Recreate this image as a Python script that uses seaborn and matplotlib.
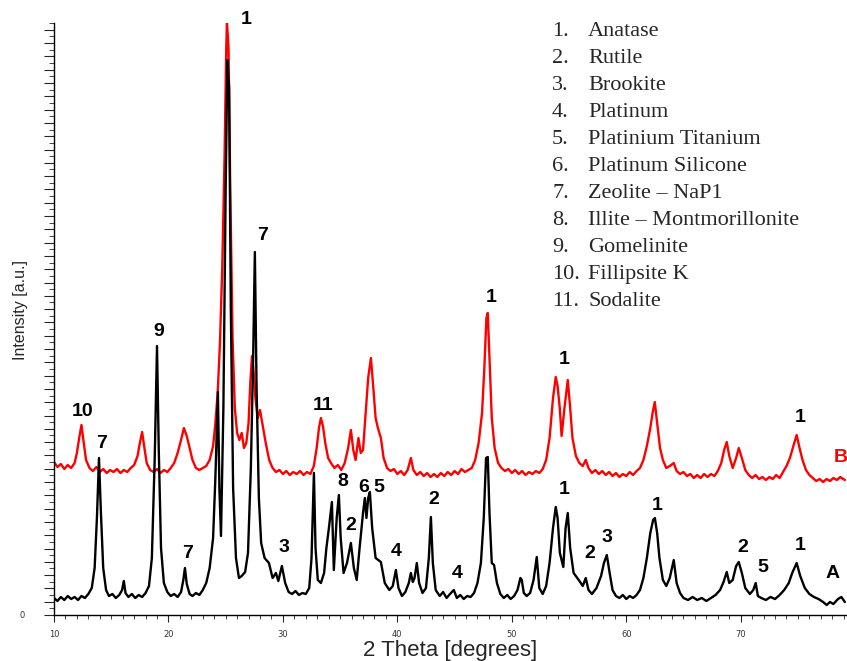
import numpy as np
import pandas as pd
import matplotlib
matplotlib.use("Agg")
import matplotlib.pyplot as plt
from matplotlib.ticker import MultipleLocator, FuncFormatter
import seaborn as sns

# XRD pattern A (black)
theta_a = [10.0, 10.3, 10.6, 10.9, 11.2, 11.5, 11.8, 12.1, 12.4, 12.7, 13.0, 13.3, 13.55, 13.75, 13.93, 14.1,
           14.3, 14.55, 14.8, 15.1, 15.4, 15.7, 15.95, 16.1, 16.25, 16.5, 16.8, 17.1, 17.4, 17.7, 18.0, 18.3,
           18.55, 18.8, 19.0, 19.15, 19.35, 19.6, 19.9, 20.2, 20.5, 20.8, 21.1, 21.3, 21.44, 21.6, 21.85, 22.1,
           22.4, 22.7, 23.0, 23.3, 23.6, 23.9, 24.1, 24.32, 24.45, 24.59, 24.8, 25.0, 25.15, 25.3, 25.45, 25.65,
           25.9, 26.16, 26.4, 26.7, 26.95, 27.2, 27.4, 27.55, 27.7, 27.9, 28.1, 28.4, 28.78, 29.1, 29.39, 29.6,
           29.91, 30.2, 30.5, 30.8, 31.1, 31.4, 31.7, 32.0, 32.3, 32.5, 32.71, 32.85, 33.05, 33.32, 33.6, 33.8,
           34.02, 34.28, 34.45, 34.7, 34.89, 35.05, 35.3, 35.6, 35.94, 36.2, 36.45, 36.7, 37.0, 37.16, 37.3, 37.45,
           37.6, 37.8, 38.1, 38.56, 38.9, 39.3, 39.6, 39.87, 40.1, 40.4, 40.7, 41.0, 41.18, 41.35, 41.5, 41.7,
           41.9, 42.2, 42.5, 42.75, 42.93, 43.1, 43.35, 43.7, 44.0, 44.3, 44.6, 44.93, 45.2, 45.5, 45.8, 46.1,
           46.4, 46.7, 47.0, 47.3, 47.55, 47.75, 47.9, 48.05, 48.25, 48.45, 48.7, 49.0, 49.3, 49.6, 49.9, 50.2,
           50.5, 50.75, 50.87, 51.05, 51.3, 51.6, 51.9, 52.18, 52.4, 52.7, 53.0, 53.3, 53.6, 53.84, 54.0, 54.2,
           54.5, 54.7, 54.89, 55.1, 55.4, 55.85, 56.2, 56.46, 56.7, 57.0, 57.4, 57.8, 58.05, 58.3, 58.55, 58.8,
           59.1, 59.4, 59.7, 60.0, 60.3, 60.6, 60.9, 61.2, 61.5, 61.8, 62.1, 62.35, 62.5, 62.7, 62.9, 63.2,
           63.5, 63.8, 64.15, 64.4, 64.7, 65.0, 65.4, 65.8, 66.2, 66.6, 67.0, 67.4, 67.8, 68.2, 68.5, 68.78,
           69.0, 69.3, 69.6, 69.83, 70.1, 70.4, 70.8, 71.1, 71.31, 71.5, 71.8, 72.2, 72.6, 73.0, 73.4, 73.8,
           74.2, 74.5, 74.89, 75.2, 75.6, 76.0, 76.4, 76.8, 77.2, 77.51, 77.8, 78.1, 78.5, 78.8, 79.1]
int_a = [17, 14, 18, 15, 19, 16, 18, 15, 19, 17, 21, 27, 47, 97, 157, 102,
         47, 25, 19, 21, 17, 20, 25, 34, 22, 18, 21, 17, 20, 18, 22, 29,
         57, 157, 269, 167, 67, 32, 23, 19, 21, 18, 23, 35, 47, 31, 21, 19,
         22, 20, 25, 32, 47, 77, 137, 223, 127, 79, 207, 427, 555, 527, 307, 127,
         57, 37, 39, 43, 62, 147, 257, 363, 227, 117, 72, 57, 52, 37, 42, 34,
         49, 32, 23, 21, 24, 20, 22, 21, 27, 57, 142, 67, 35, 32, 42, 67,
         87, 113, 45, 97, 120, 77, 42, 52, 72, 47, 35, 67, 102, 117, 97, 117,
         123, 87, 57, 53, 32, 25, 29, 45, 27, 19, 23, 32, 42, 33, 37, 52,
         32, 22, 27, 57, 98, 52, 25, 19, 23, 17, 21, 25, 17, 20, 16, 19,
         18, 22, 32, 52, 97, 157, 158, 102, 52, 50, 32, 21, 17, 20, 16, 19,
         25, 37, 35, 22, 19, 22, 35, 58, 27, 21, 29, 52, 87, 108, 97, 62,
         48, 87, 102, 67, 42, 35, 29, 37, 25, 21, 27, 39, 52, 60, 42, 25,
         19, 17, 20, 16, 19, 17, 20, 25, 37, 57, 82, 95, 97, 82, 57, 35,
         29, 37, 55, 32, 22, 17, 15, 18, 15, 17, 14, 17, 20, 25, 33, 43,
         32, 35, 49, 53, 42, 27, 21, 25, 32, 19, 17, 15, 18, 16, 20, 25,
         32, 42, 52, 39, 27, 21, 18, 16, 13, 10, 13, 11, 16, 18, 13]

# XRD pattern B (red), shifted up in the original plot
theta_b = [10.0, 10.3, 10.6, 10.9, 11.2, 11.5, 11.8, 12.0, 12.2, 12.4, 12.6, 12.8, 13.1, 13.4, 13.7, 14.0,
           14.3, 14.6, 14.9, 15.2, 15.5, 15.8, 16.1, 16.4, 16.7, 17.0, 17.3, 17.5, 17.7, 17.9, 18.1, 18.4,
           18.7, 19.0, 19.3, 19.6, 19.9, 20.2, 20.5, 20.8, 21.1, 21.35, 21.6, 21.85, 22.1, 22.4, 22.7, 23.0,
           23.3, 23.6, 23.9, 24.1, 24.3, 24.5, 24.7, 24.9, 25.05, 25.11, 25.25, 25.4, 25.6, 25.8, 26.0, 26.2,
           26.4, 26.6, 26.8, 27.0, 27.15, 27.3, 27.45, 27.6, 27.8, 28.0, 28.2, 28.5, 28.8, 29.1, 29.4, 29.7,
           30.0, 30.3, 30.6, 30.9, 31.2, 31.5, 31.8, 32.1, 32.4, 32.7, 32.95, 33.15, 33.32, 33.5, 33.7, 33.95,
           34.2, 34.5, 34.8, 35.1, 35.4, 35.7, 35.94, 36.15, 36.35, 36.6, 36.8, 37.0, 37.2, 37.45, 37.69, 37.9,
           38.1, 38.3, 38.56, 38.8, 39.1, 39.4, 39.7, 40.0, 40.3, 40.6, 40.9, 41.18, 41.4, 41.7, 42.0, 42.3,
           42.6, 42.9, 43.2, 43.5, 43.8, 44.1, 44.4, 44.7, 45.0, 45.3, 45.6, 45.9, 46.2, 46.5, 46.8, 47.1,
           47.4, 47.6, 47.78, 47.9, 48.05, 48.25, 48.5, 48.8, 49.1, 49.4, 49.7, 50.0, 50.3, 50.6, 50.9, 51.2,
           51.5, 51.8, 52.1, 52.4, 52.7, 53.0, 53.3, 53.6, 53.84, 54.0, 54.19, 54.35, 54.6, 54.89, 55.1, 55.3,
           55.6, 55.9, 56.2, 56.46, 56.7, 57.0, 57.3, 57.6, 57.9, 58.2, 58.5, 58.8, 59.1, 59.4, 59.7, 60.0,
           60.3, 60.6, 60.9, 61.2, 61.5, 61.8, 62.1, 62.3, 62.49, 62.7, 62.95, 63.2, 63.5, 63.8, 64.15, 64.4,
           64.7, 65.0, 65.3, 65.6, 65.9, 66.2, 66.5, 66.8, 67.1, 67.4, 67.7, 68.0, 68.3, 68.55, 68.78, 69.0,
           69.3, 69.6, 69.83, 70.1, 70.4, 70.7, 71.0, 71.3, 71.6, 71.9, 72.2, 72.5, 72.8, 73.1, 73.4, 73.7,
           74.0, 74.3, 74.6, 74.89, 75.1, 75.4, 75.7, 76.0, 76.3, 76.6, 76.9, 77.2, 77.5, 77.8, 78.1, 78.4,
           78.7, 79.1]
int_b = [153, 148, 151, 146, 150, 147, 152, 162, 177, 190, 172, 155, 147, 144, 148, 143,
         146, 142, 145, 143, 146, 142, 145, 143, 147, 150, 159, 172, 183, 167, 152, 145,
         143, 146, 142, 145, 143, 147, 152, 162, 175, 187, 179, 167, 155, 147, 145, 147,
         149, 155, 169, 192, 222, 272, 347, 457, 567, 593, 567, 427, 277, 207, 182, 175,
         182, 167, 172, 192, 232, 259, 242, 217, 197, 205, 192, 172, 155, 147, 143, 145,
         141, 144, 140, 143, 141, 144, 140, 143, 141, 149, 167, 187, 197, 189, 172, 157,
         152, 147, 150, 145, 152, 167, 185, 165, 155, 177, 162, 165, 197, 237, 257, 227,
         197, 187, 177, 157, 147, 144, 146, 141, 144, 140, 145, 157, 145, 140, 143, 139,
         142, 138, 141, 138, 142, 139, 143, 140, 144, 141, 146, 143, 145, 147, 155, 172,
         202, 247, 297, 302, 257, 197, 167, 152, 147, 144, 146, 142, 145, 141, 144, 140,
         143, 141, 144, 142, 146, 155, 177, 217, 238, 229, 207, 179, 207, 235, 207, 177,
         159, 152, 149, 155, 147, 142, 145, 141, 144, 140, 143, 139, 142, 138, 141, 139,
         143, 140, 144, 147, 155, 169, 187, 202, 213, 192, 167, 155, 147, 149, 152, 144,
         141, 143, 139, 141, 137, 140, 137, 141, 138, 141, 139, 144, 152, 165, 173, 159,
         147, 157, 167, 157, 145, 140, 137, 140, 136, 138, 135, 138, 136, 140, 137, 143,
         149, 157, 169, 180, 169, 155, 145, 140, 137, 134, 136, 133, 136, 134, 137, 135,
         138, 135]

# phase labels over the peaks
peak_text = ["1", "7", "9", "10", "7", "7", "11", "3", "8", "2", "6", "5", "4", "2", "4",
             "1", "1", "1", "2", "3", "1", "2", "5", "1", "1", "A"]
peak_x = [26.75, 28.25, 19.12, 12.46, 14.12, 21.67, 33.5, 30.09, 35.26, 35.95, 37.02, 38.42, 39.91,
          43.16, 45.26, 48.16, 54.56, 54.56, 56.84, 58.33, 62.72, 70.18, 71.93, 75.18, 75.18, 78.07]
peak_y = [595, 379, 283, 204, 172, 62, 210, 67, 134, 90, 128, 128, 63,
          115, 41, 318, 255, 125, 62, 77, 110, 67, 47, 197, 70, 42]

phases = ["Anatase", "Rutile", "Brookite", "Platinum", "Platinium Titanium", "Platinum Silicone",
          "Zeolite \u2013 NaP1", "Illite \u2013 Montmorillonite", "Gomelinite", "Fillipsite K", "Sodalite"]

sns.set_style("white")

fig = plt.figure(figsize=(8.47, 6.61), dpi=100)
ax = fig.add_axes([54 / 847, 46 / 661, 792 / 847, 592 / 661])

df_a = pd.DataFrame({"theta": theta_a, "intensity": int_a})
df_b = pd.DataFrame({"theta": theta_b, "intensity": int_b})
sns.lineplot(data=df_b, x="theta", y="intensity", color="#ff0000", lw=1.7, ax=ax,
             estimator=None, sort=False, zorder=2)
sns.lineplot(data=df_a, x="theta", y="intensity", color="black", lw=1.7, ax=ax,
             estimator=None, sort=False, zorder=3)

ax.set_xlim(10, 79.2)
ax.set_ylim(0, 592)

for sp in ["top", "right"]:
    ax.spines[sp].set_visible(False)
for sp in ["left", "bottom"]:
    ax.spines[sp].set_color("black")
    ax.spines[sp].set_linewidth(1.0)

ax.xaxis.set_major_locator(MultipleLocator(10))
ax.xaxis.set_minor_locator(MultipleLocator(1))
ax.yaxis.set_major_locator(MultipleLocator(13.3))
ax.yaxis.set_minor_locator(MultipleLocator(6.65))
ax.yaxis.set_major_formatter(FuncFormatter(lambda v, p: "0" if abs(v) < 1e-6 else ""))
ax.tick_params(axis="x", which="major", direction="out", length=5, width=0.8,
               labelsize=6, labelcolor="#333333", pad=6, bottom=True)
ax.tick_params(axis="x", which="minor", direction="out", length=3, width=0.6, bottom=True)
ax.tick_params(axis="y", which="major", direction="out", length=7, width=0.8,
               labelsize=6, labelcolor="#333333", pad=14, left=True)
ax.tick_params(axis="y", which="minor", direction="out", length=3.5, width=0.6, left=True)

ax.set_xlabel("2 Theta [degrees]", fontsize=16, family="Liberation Sans")
ax.xaxis.set_label_coords(0.5, -0.042)
ax.set_ylabel("Intensity [a.u.]", fontsize=11.5, family="Liberation Sans")
ax.yaxis.set_label_coords(-0.033, 0.515)

for t, x, y in zip(peak_text, peak_x, peak_y):
    ax.text(x, y, t, fontsize=14, fontweight="bold", family="Liberation Sans",
            ha="center", va="center", color="black", clip_on=False)
ax.text(78.77, 158, "B", fontsize=14, fontweight="bold", family="Liberation Sans",
        ha="center", va="center", color="#ff0000", clip_on=False)

# phase list in the upper right corner
for i, name in enumerate(phases):
    ypix = 32 + i * 26.9
    fig.text(552 / 847, 1 - ypix / 661, f"{i + 1}.", fontsize=16, family="Liberation Serif",
             ha="left", va="center")
    fig.text(588 / 847, 1 - ypix / 661, name, fontsize=16, family="Liberation Serif",
             ha="left", va="center")

fig.savefig("out.png", dpi=100)
